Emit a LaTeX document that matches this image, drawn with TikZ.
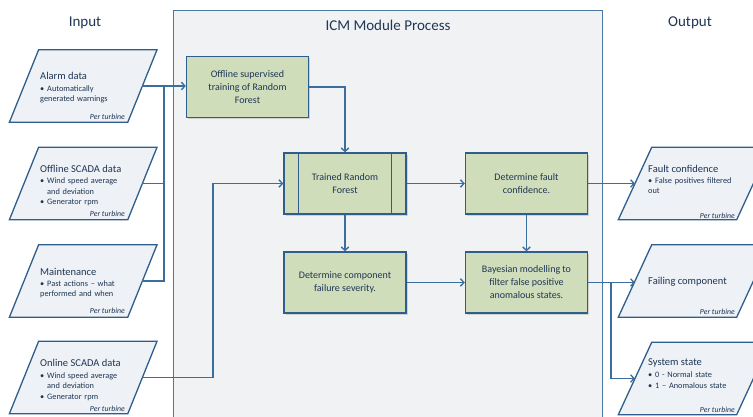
\documentclass[tikz,border=0pt]{standalone}
\usepackage{fontspec}
\setmainfont{Carlito}
\usetikzlibrary{arrows.meta,shadows}
\definecolor{linec}{HTML}{3A6E9F}
\definecolor{boxb}{HTML}{2F5E8C}
\definecolor{greenf}{HTML}{CFDDBA}
\definecolor{paraf}{HTML}{EEF1F5}
\definecolor{icmf}{HTML}{F0F2F4}
\definecolor{icmb}{HTML}{4A78A3}
\definecolor{txt}{HTML}{1F3655}
\newcommand\bitem[1]{\par\noindent\hangindent=7pt\hangafter=1\makebox[7pt][l]{\textbullet}#1}
\newcommand\para[4]{%
  \node[paranode] (#1) at (#2,#3) {};
  \draw[parashape] ([xshift=#4]#1.north west) -- ([xshift=#4]#1.north east)
    -- ([xshift=-#4]#1.south east) -- ([xshift=-#4]#1.south west) -- cycle;}
\tikzset{
 conn/.style={draw=linec, line width=1.35pt},
 arr/.style={conn, -{Straight Barb[length=3.5pt,width=7.5pt]}},
 procbox/.style={draw=boxb, fill=greenf, line width=1.3pt, minimum width=122, minimum height=61,
   align=center, font=\fontsize{10}{13}\selectfont, text=txt,
   drop shadow={shadow xshift=1.8pt,shadow yshift=-1.8pt,opacity=0.2,fill=black!70}},
 paranode/.style={minimum width=118, minimum height=72, inner sep=0},
 parashape/.style={draw=boxb, fill=paraf, line width=1.3pt},
 ptitle/.style={anchor=west, font=\fontsize{10.5}{12}\selectfont, text=txt, inner sep=0},
 pbul/.style={anchor=north west, font=\fontsize{8.3}{10.5}\selectfont, text=txt, inner sep=0, text width=100pt, align=left},
 pturb/.style={anchor=east, font=\fontsize{7.8}{9}\selectfont\itshape, text=txt, inner sep=0},
 header/.style={font=\fontsize{15}{17}\selectfont, text=txt},
}
\begin{document}
\begin{tikzpicture}[x=1pt,y=-1pt]
\useasboundingbox (0,0) rectangle (753,416);
\clip (0,0) rectangle (753,416);
% ICM box
\node[draw=icmb, fill=icmf, line width=1.3pt, minimum width=429, minimum height=420, inner sep=0, anchor=north west] (icm) at (173,10) {};
\node[header] (hin) at (85,23) {Input};
\node[header] (hicm) at (388,25) {ICM Module Process};
\node[header] (hout) at (690,23) {Output};
% input parallelograms
\para{alarm}{83.2}{86}{14.6}
\para{offscada}{83.2}{183.5}{14.6}
\para{maint}{83.2}{281}{14.6}
\para{online}{83.2}{377.5}{14.6}
% output parallelograms
\para{fco}{694.2}{183.5}{16.7}
\para{fcomp}{694.2}{281}{16.7}
\para{sstate}{694.2}{378.5}{16.7}
% texts of inputs
\node[ptitle] (t1) at (40,76) {Alarm data};
\node[pbul] (b1) at (40,80.5) {\bitem{Automatically\newline generated warnings}};
\node[pturb] (p1) at (125,117) {Per turbine};
\node[ptitle] (t2) at (40,169) {Offline SCADA data};
\node[pbul] (b2) at (40,173) {\bitem{Wind speed average\newline and deviation}\bitem{Generator rpm}};
\node[pturb] (p2) at (125,214) {Per turbine};
\node[ptitle] (t3) at (40,272) {Maintenance};
\node[pbul] (b3) at (40,275.5) {\bitem{Past actions -- what\newline performed and when}};
\node[pturb] (p3) at (125,311) {Per turbine};
\node[ptitle] (t4) at (40,363) {Online SCADA data};
\node[pbul] (b4) at (40,367.5) {\bitem{Wind speed average\newline and deviation}\bitem{Generator rpm}};
\node[pturb] (p4) at (125,409) {Per turbine};
% texts of outputs
\node[ptitle] (t5) at (648,169) {Fault confidence};
\node[pbul] (b5) at (648,172.5) {\bitem{False positives filtered\newline out}};
\node[pturb] (p5) at (735,216) {Per turbine};
\node[ptitle] (t6) at (648,282) {Failing component};
\node[pturb] (p6) at (735,312) {Per turbine};
\node[ptitle] (t7) at (648,363) {System state};
\node[pbul] (b7) at (648,367) {\bitem{0 - Normal state}\bitem{1 -- Anomalous state}};
\node[pturb] (p7) at (735,410) {Per turbine};
% process boxes
\node[procbox] (train) at (247.5,87) {Offline supervised\\training of Random\\Forest};
\node[procbox] (trained) at (345,183.5) {Trained Random\\Forest};
\draw[boxb, line width=1.3pt] ([xshift=15]trained.north west) -- ([xshift=15]trained.south west)
  ([xshift=-15]trained.north east) -- ([xshift=-15]trained.south east);
\node[procbox] (fault) at (526.5,183.5) {Determine fault\\confidence.};
\node[procbox] (sev) at (345,282.5) {Determine component\\failure severity.};
\node[procbox] (bayes) at (526.5,282.5) {Bayesian modelling to\\filter false positive\\anomalous states.};
% connectors
\coordinate (bx) at (164,0);
\coordinate (ox) at (213,0);
\coordinate (rx) at (611,0);
\draw[arr] (alarm.east) -- (alarm.east -| train.west);
\draw[conn] (offscada.east) -- (offscada.east -| bx);
\draw[conn] (maint.east) -| (alarm.east -| bx);
\draw[arr] (online.east) -| (ox |- trained.west) -- (trained.west);
\draw[arr] (train.east) -| (trained.north);
\draw[arr] (trained.east) -- (fault.west);
\draw[arr] (trained.south) -- (sev.north);
\draw[arr] (fault.south) -- (bayes.north);
\draw[arr] (sev.east) -- (bayes.west);
\draw[arr] (fault.east) -- (fault.east -| fco.west);
\draw[arr] (bayes.east) -- (bayes.east -| fcomp.west);
\draw[arr] (bayes.east -| rx) |- (sstate.west);
\end{tikzpicture}
\end{document}
